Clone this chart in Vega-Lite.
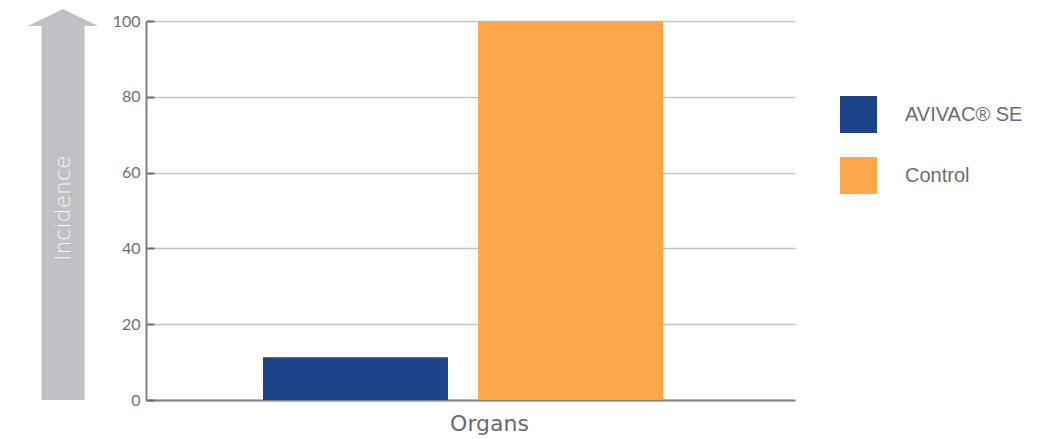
{
  "$schema": "https://vega.github.io/schema/vega-lite/v6.json",
  "padding": {"left": 0, "top": 4, "right": 0, "bottom": 8},
  "background": "white",
  "spacing": 20,
  "bounds": "flush",
  "config": {"view": {"stroke": null}},
  "datasets": {
    "bars": [
      {"organ": "Organs", "group": "AVIVAC® SE", "incidence": 11.3},
      {"organ": "Organs", "group": "Control", "incidence": 100}
    ],
    "arrow": [
      {"pos": 0.5, "start": 0, "end": 98.7, "head": 100.9, "label": "Incidence", "mid": 50.6}
    ]
  },
  "hconcat": [
    {
      "width": 126,
      "height": 379,
      "data": {"name": "arrow"},
      "layer": [
        {
          "mark": {"type": "rule", "strokeWidth": 43, "color": "#c0c1c4", "strokeCap": "butt"},
          "encoding": {
            "x": {"field": "pos", "type": "quantitative", "scale": {"domain": [0, 1]}, "axis": null},
            "y": {"field": "start", "type": "quantitative", "scale": {"domain": [0, 100]}, "axis": null},
            "y2": {"field": "end"}
          }
        },
        {
          "mark": {"type": "point", "filled": true, "shape": "M -1 0.243 L 0 -0.243 L 1 0.243 Z", "size": 4900, "color": "#c0c1c4", "opacity": 1, "strokeWidth": 0},
          "encoding": {
            "x": {"field": "pos", "type": "quantitative", "scale": {"domain": [0, 1]}, "axis": null},
            "y": {"field": "head", "type": "quantitative", "scale": {"domain": [0, 100]}, "axis": null}
          }
        },
        {
          "mark": {"type": "text", "angle": 270, "fontSize": 22, "color": "#f6f6f6", "font": "DejaVu Sans", "fontWeight": 200, "align": "center", "baseline": "middle"},
          "encoding": {
            "x": {"field": "pos", "type": "quantitative", "scale": {"domain": [0, 1]}, "axis": null},
            "y": {"field": "mid", "type": "quantitative", "scale": {"domain": [0, 100]}, "axis": null},
            "text": {"field": "label"}
          }
        }
      ]
    },
    {
      "width": 649,
      "height": 379,
      "data": {"name": "bars"},
      "mark": {"type": "bar"},
      "encoding": {
        "x": {
          "field": "organ", "type": "nominal",
          "scale": {"paddingInner": 0, "paddingOuter": 0.311, "align": 0.47},
          "axis": {"labels": false, "ticks": false, "title": "Organs", "titleFontSize": 22, "titleFont": "DejaVu Sans", "titleFontWeight": "normal", "titleColor": "#6a6a6a", "titlePadding": 13, "domainColor": "#808080", "domainWidth": 2, "titleX": 343}
        },
        "xOffset": {"field": "group", "type": "nominal", "scale": {"paddingInner": 0.14, "paddingOuter": 0}},
        "y": {
          "field": "incidence", "type": "quantitative",
          "scale": {"domain": [0, 100]},
          "axis": {"values": [0, 20, 40, 60, 80, 100], "title": null, "domainColor": "#808080", "domainWidth": 2, "tickColor": "#707070", "tickWidth": 2, "tickSize": -8, "labelPadding": 14, "labelFontSize": 16, "labelColor": "#6d6d6d", "labelFont": "Lato", "gridColor": "#c4c4c4", "gridWidth": 1.5}
        },
        "color": {
          "field": "group", "type": "nominal",
          "scale": {"domain": ["AVIVAC® SE", "Control"], "range": ["#1d4489", "#fba74a"]},
          "legend": {"title": null, "orient": "none", "legendX": 840, "legendY": 75, "symbolType": "square", "symbolSize": 1369, "symbolStrokeWidth": 0, "symbolOpacity": 1, "labelFontSize": 20, "labelFont": "Liberation Sans", "labelColor": "#6d6d6d", "rowPadding": 24, "labelOffset": 28}
        }
      }
    }
  ]
}
